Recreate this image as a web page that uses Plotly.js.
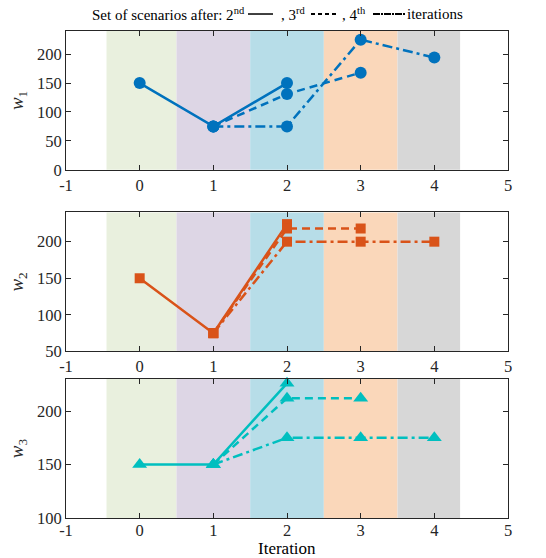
<!DOCTYPE html>
<html>
<head>
<meta charset="utf-8">
<script src="https://cdn.plot.ly/plotly-3.0.1.min.js"></script>
<style>html,body{margin:0;padding:0;background:#fff;}#chart{width:546px;height:558px;}</style>
</head>
<body>
<div id="chart"></div>
<script>
// ---- data ----
const xIt2 = [0, 1, 2];
const xIt3 = [1, 2, 3];
const xIt4 = [1, 2, 3, 4];

const w1It2 = [150, 75, 150];
const w1It3 = [75, 131, 168];
const w1It4 = [75, 75, 225, 194];

const w2It2 = [150, 75, 224];
const w2It3 = [75, 218, 218];
const w2It4 = [75, 200, 200, 200];

const w3It2 = [150, 150, 226];
const w3It3 = [150, 212, 212];
const w3It4 = [150, 175, 175, 175];

const bandStart = [-0.45, 0.5, 1.5, 2.5, 3.5];
const bandEnd   = [0.5, 1.5, 2.5, 3.5, 4.35];
const bandColors = ['#E9F0DE', '#DDD6E5', '#B7DDE8', '#FAD7BA', '#D7D7D7'];

const xTicks = [-1, 0, 1, 2, 3, 4, 5];

// ---- styling ----
const FONT = 'Liberation Serif';
const blue = '#0072BD', orange = '#D95319', cyan = '#00BFBF';
const DASH = '8px,5px';
const DASHDOT = '10px,4px,3px,4px';
const LW = 2.5;

function tr(x, y, color, dash, symbol, size, xa, ya) {
  return {
    x: x, y: y, type: 'scatter', mode: 'lines+markers', cliponaxis: false,
    line: {color: color, width: LW, dash: dash},
    marker: {color: color, symbol: symbol, size: size},
    xaxis: xa, yaxis: ya, showlegend: false, hoverinfo: 'skip'
  };
}

const data = [
  tr(xIt2, w1It2, blue, 'solid', 'circle', 12, 'x', 'y'),
  tr(xIt3, w1It3, blue, DASH, 'circle', 12, 'x', 'y'),
  tr(xIt4, w1It4, blue, DASHDOT, 'circle', 12, 'x', 'y'),
  tr(xIt2, w2It2, orange, 'solid', 'square', 10, 'x2', 'y2'),
  tr(xIt3, w2It3, orange, DASH, 'square', 10, 'x2', 'y2'),
  tr(xIt4, w2It4, orange, DASHDOT, 'square', 10, 'x2', 'y2'),
  tr(xIt2, w3It2, cyan, 'solid', 'triangle-up', 13, 'x3', 'y3'),
  tr(xIt3, w3It3, cyan, DASH, 'triangle-up', 13, 'x3', 'y3'),
  tr(xIt4, w3It4, cyan, DASHDOT, 'triangle-up', 13, 'x3', 'y3')
];

const axisCommon = {
  showline: true, linecolor: '#262626', linewidth: 1, mirror: 'ticks',
  ticks: 'inside', ticklen: 5, tickcolor: '#262626', showgrid: false, zeroline: false,
  tickfont: {family: FONT, size: 16.5, color: '#262626'}
};

function xaxis(anchor, standoff) {
  return Object.assign({}, axisCommon, {
    range: [-1, 5], tickvals: xTicks, ticktext: xTicks.map(String), anchor: anchor,
    ticklabelstandoff: standoff
  });
}
function yaxis(anchor, dom, range, tv, title) {
  return Object.assign({}, axisCommon, {
    domain: dom, range: range, tickvals: tv, anchor: anchor,
    title: {text: title, font: {family: FONT, size: 19, color: '#262626'}, standoff: 8}
  });
}

const shapes = [];
const panels = [['x', 'y'], ['x2', 'y2'], ['x3', 'y3']];
panels.forEach(function (p) {
  for (let i = 0; i < bandStart.length; i++) {
    shapes.push({type: 'rect', xref: p[0], yref: p[1] + ' domain',
      x0: bandStart[i], x1: bandEnd[i], y0: 0, y1: 1,
      fillcolor: bandColors[i], line: {width: 0}, layer: 'below'});
  }
});

// legend-like header (paper coords relative to plot area: 66..508 px wide)
function px(xpx) { return (xpx - 66) / 442; }
function py(ypx) { return (518.3 - ypx) / 487.3; }
const hy = py(14);
shapes.push({type: 'line', xref: 'paper', yref: 'paper', x0: px(248), x1: px(273), y0: hy, y1: hy,
  line: {color: '#000', width: 1.5}});
shapes.push({type: 'line', xref: 'paper', yref: 'paper', x0: px(311), x1: px(338), y0: hy, y1: hy,
  line: {color: '#000', width: 2, dash: '4px,3px'}});
shapes.push({type: 'line', xref: 'paper', yref: 'paper', x0: px(373), x1: px(405), y0: hy, y1: hy,
  line: {color: '#000', width: 2, dash: '7px,1px,2px,1px'}});

const hfont = {family: FONT, size: 15, color: '#000'};
const annotations = [
  {text: 'Set of scenarios after: 2<sup>nd</sup>', xref: 'paper', yref: 'paper', x: px(247), y: hy,
    xanchor: 'right', yanchor: 'middle', showarrow: false, font: hfont},
  {text: ', 3<sup>rd</sup>', xref: 'paper', yref: 'paper', x: px(279), y: hy,
    xanchor: 'left', yanchor: 'middle', showarrow: false, font: hfont},
  {text: ', 4<sup>th</sup>', xref: 'paper', yref: 'paper', x: px(340), y: hy,
    xanchor: 'left', yanchor: 'middle', showarrow: false, font: hfont},
  {text: 'iterations', xref: 'paper', yref: 'paper', x: px(405), y: hy,
    xanchor: 'left', yanchor: 'middle', showarrow: false, font: hfont},
  {text: 'Iteration', xref: 'paper', yref: 'paper', x: 0.5, y: py(538),
    xanchor: 'center', yanchor: 'top', showarrow: false, borderpad: 0,
    font: {family: FONT, size: 17, color: '#000'}}
];

const layout = {
  width: 546, height: 558,
  margin: {l: 66, r: 38, t: 31, b: 40},
  paper_bgcolor: '#fff', plot_bgcolor: '#fff',
  font: {family: FONT},
  xaxis: xaxis('y', 0),
  xaxis2: xaxis('y2', 0),
  xaxis3: xaxis('y3', -3),
  yaxis: yaxis('x', [0.715, 1], [0, 240], [0, 50, 100, 150, 200], '<i>w</i><sub>1</sub>'),
  yaxis2: yaxis('x2', [0.342, 0.6275], [50, 240], [50, 100, 150, 200], '<i>w</i><sub>2</sub>'),
  yaxis3: yaxis('x3', [0, 0.2854], [100, 230], [100, 150, 200], '<i>w</i><sub>3</sub>'),
  shapes: shapes,
  annotations: annotations
};

Plotly.newPlot('chart', data, layout, {displayModeBar: false, staticPlot: true});
</script>
</body>
</html>
